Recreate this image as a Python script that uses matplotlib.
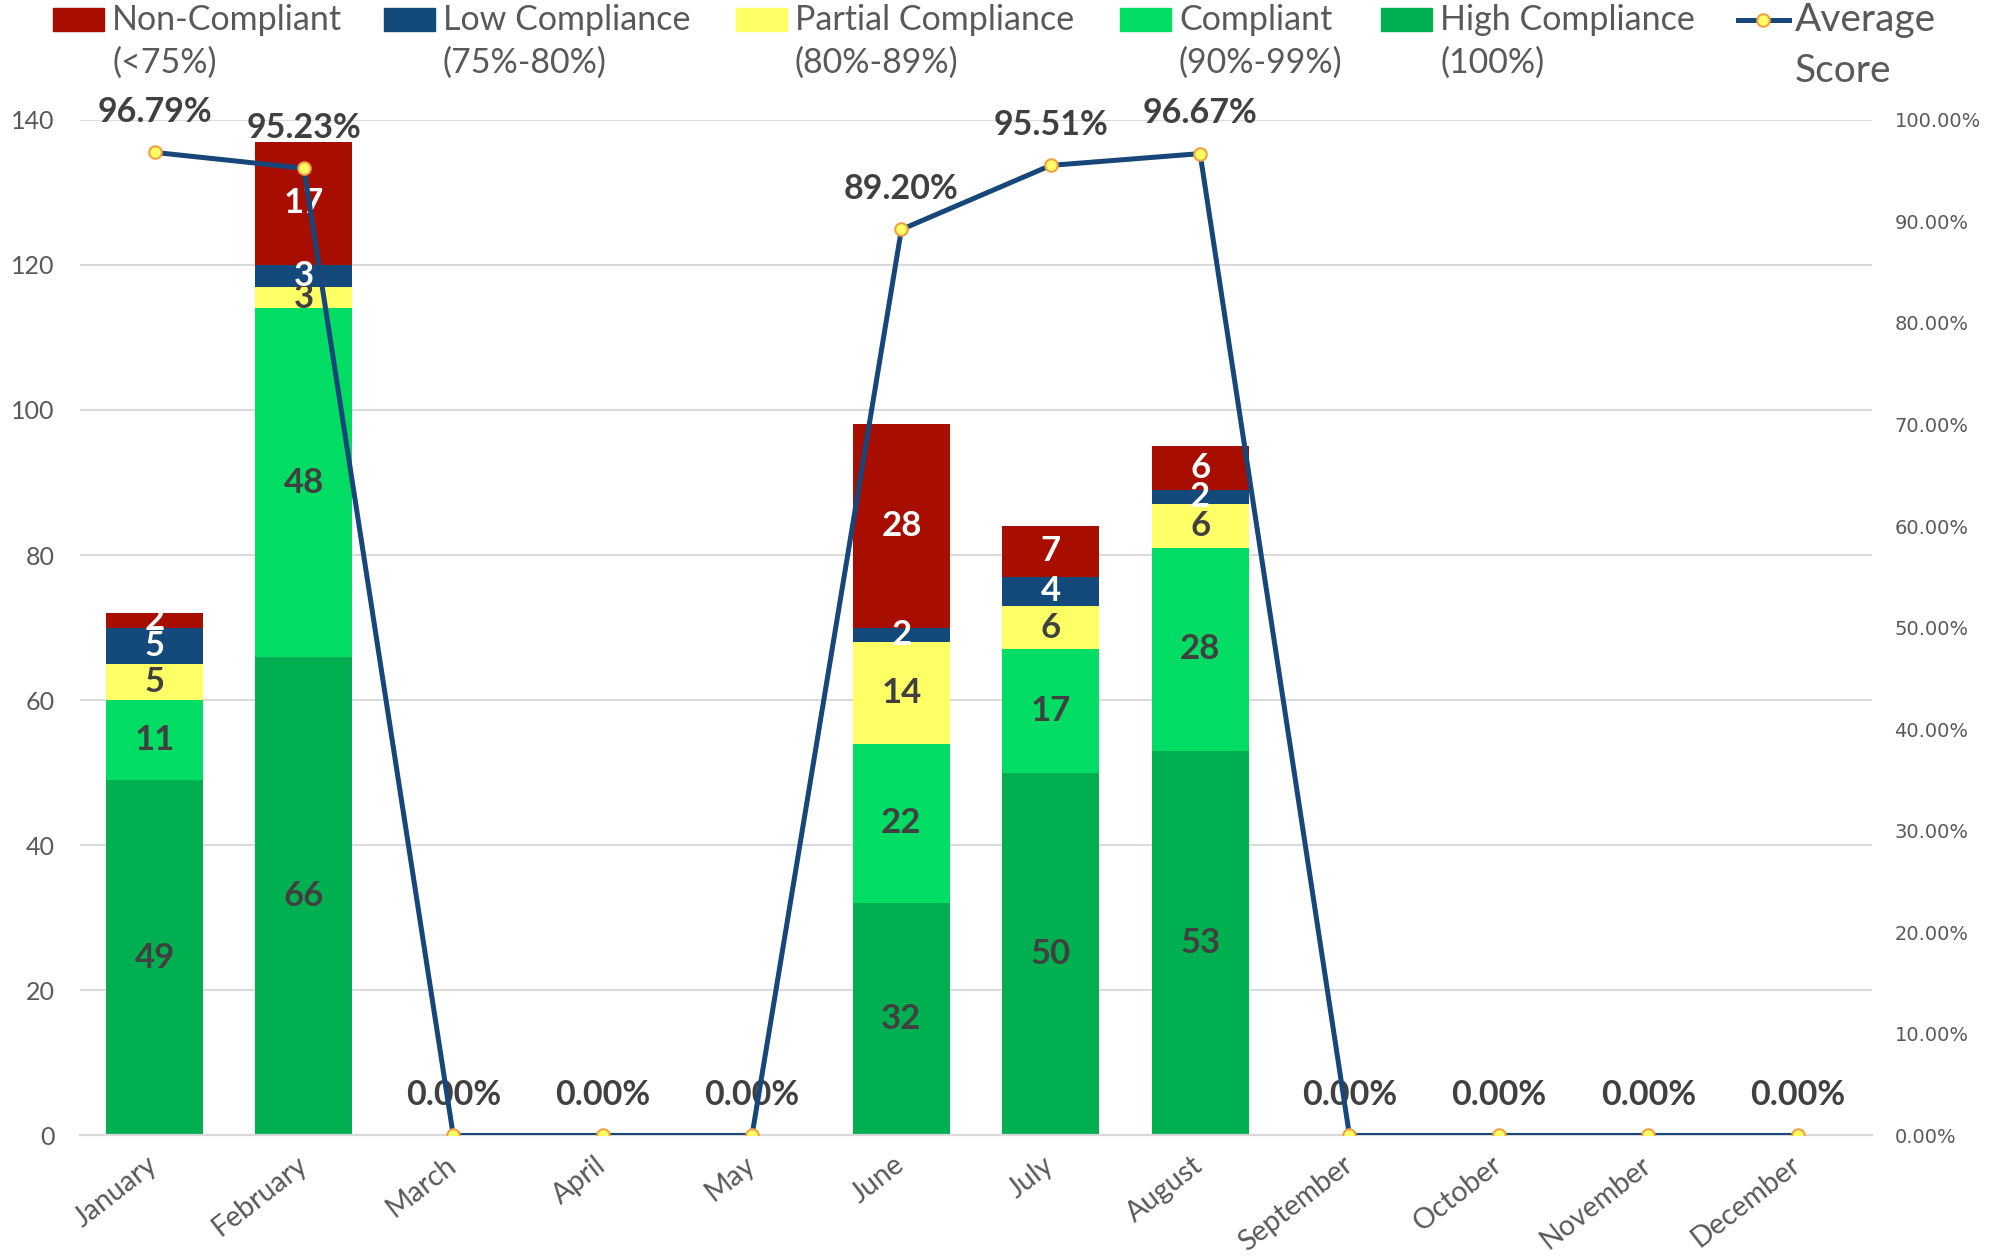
import matplotlib
matplotlib.use("Agg")
import matplotlib.pyplot as plt
from matplotlib.lines import Line2D
from matplotlib.patches import Rectangle
from matplotlib.ticker import FuncFormatter

plt.rcParams['font.family'] = ['Lato', 'DejaVu Sans']

months = ["January", "February", "March", "April", "May", "June",
          "July", "August", "September", "October", "November", "December"]
high = [49, 66, 0, 0, 0, 32, 50, 53, 0, 0, 0, 0]
compliant = [11, 48, 0, 0, 0, 22, 17, 28, 0, 0, 0, 0]
partial = [5, 3, 0, 0, 0, 14, 6, 6, 0, 0, 0, 0]
low = [5, 3, 0, 0, 0, 2, 4, 2, 0, 0, 0, 0]
non = [2, 17, 0, 0, 0, 28, 7, 6, 0, 0, 0, 0]
avg_score = [96.79, 95.23, 0, 0, 0, 89.20, 95.51, 96.67, 0, 0, 0, 0]

series = [
    ("High Compliance\n(100%)", high, "#00B050", "#404040"),
    ("Compliant\n(90%-99%)", compliant, "#00DC64", "#404040"),
    ("Partial Compliance\n(80%-89%)", partial, "#FFFF66", "#404040"),
    ("Low Compliance\n(75%-80%)", low, "#14497C", "white"),
    ("Non-Compliant\n(<75%)", non, "#A80E00", "white"),
]
LINE_COLOR = "#17467A"
GRAY = "#595959"
DARK = "#404040"

fig = plt.figure(figsize=(19.96, 12.57), dpi=100)
ax = fig.add_axes([0.040, 0.0967, 0.898, 0.808])
ax2 = ax.twinx()

x = list(range(len(months)))
bottom = [0] * len(months)
for name, vals, color, tcolor in series:
    ax.bar(x, vals, 0.65, bottom=bottom, color=color, zorder=2)
    for i, v in enumerate(vals):
        if v > 0:
            ax.text(i, bottom[i] + v / 2, str(v), ha="center", va="center",
                    color=tcolor, fontsize=25, fontweight="bold", zorder=3)
    bottom = [b + v for b, v in zip(bottom, vals)]

ax.set_xlim(-0.5, 11.5)
ax.set_ylim(0, 140)
ax.set_yticks(range(0, 141, 20))
ax.yaxis.grid(True, color="#D9D9D9", lw=1.4)
ax.set_axisbelow(True)
for s in ["top", "left", "right"]:
    ax.spines[s].set_visible(False)
    ax2.spines[s].set_visible(False)
ax.spines["bottom"].set_color("#D9D9D9")
ax.spines["bottom"].set_linewidth(1.6)
ax2.spines["bottom"].set_visible(False)
ax.tick_params(axis="both", length=0, colors=GRAY)
ax.tick_params(axis="y", labelsize=18, pad=18)
ax.set_xticks(x)
ax.set_xticklabels(months, rotation=38, ha="right", va="center",
                   rotation_mode="anchor", fontsize=20.5, color=GRAY)
ax.tick_params(axis="x", pad=19)

ax2.plot(x, [v / 100 for v in avg_score], color=LINE_COLOR, lw=3.6,
         marker="o", markersize=9, markerfacecolor="#FFFF66",
         markeredgecolor="#F4A040", markeredgewidth=1.5, zorder=4)
for i, v in enumerate(avg_score):
    ax2.annotate(f"{v:.2f}%", (i, v / 100), xytext=(0, 29), textcoords="offset points",
                 ha="center", va="center", fontsize=24.5, fontweight="bold",
                 color=DARK, annotation_clip=False)
ax2.set_ylim(0, 1.0)
ax2.set_yticks([i / 10 for i in range(11)])
ax2.yaxis.set_major_formatter(FuncFormatter(lambda v, p: f"{v * 100:.2f}%"))
ax2.tick_params(axis="y", length=0, colors=GRAY, pad=16)
for lab in ax2.get_yticklabels():
    lab.set_fontfamily("DejaVu Sans")
    lab.set_fontsize(14)

# legend drawn across the top
leg_items = [series[4], series[3], series[2], series[1], series[0]]
patch_x = [53, 384, 736, 1120, 1381]
H = 1257.0
W = 1996.0
for (name, vals, color, tcolor), px in zip(leg_items, patch_x):
    fig.patches.append(Rectangle((px / W, 1 - 31 / H), 51 / W, 23 / H,
                                 transform=fig.transFigure, color=color))
    fig.text((px + 59) / W, 1 - 4 / H, name, ha="left", va="top",
             fontsize=24.5, color=GRAY, linespacing=1.4)
fig.lines.append(Line2D([1738 / W, 1789 / W], [1 - 20 / H, 1 - 20 / H],
                        transform=fig.transFigure, color=LINE_COLOR, lw=3.6))
fig.lines.append(Line2D([1763 / W], [1 - 20 / H], transform=fig.transFigure,
                        marker="o", markersize=9, markerfacecolor="#FFFF66",
                        markeredgecolor="#F4A040", markeredgewidth=1.5))
fig.text(1795 / W, 1 - 2 / H, "Average\nScore", ha="left", va="top",
         fontsize=28, color=GRAY, linespacing=1.5)

fig.savefig("out.png", dpi=100)
